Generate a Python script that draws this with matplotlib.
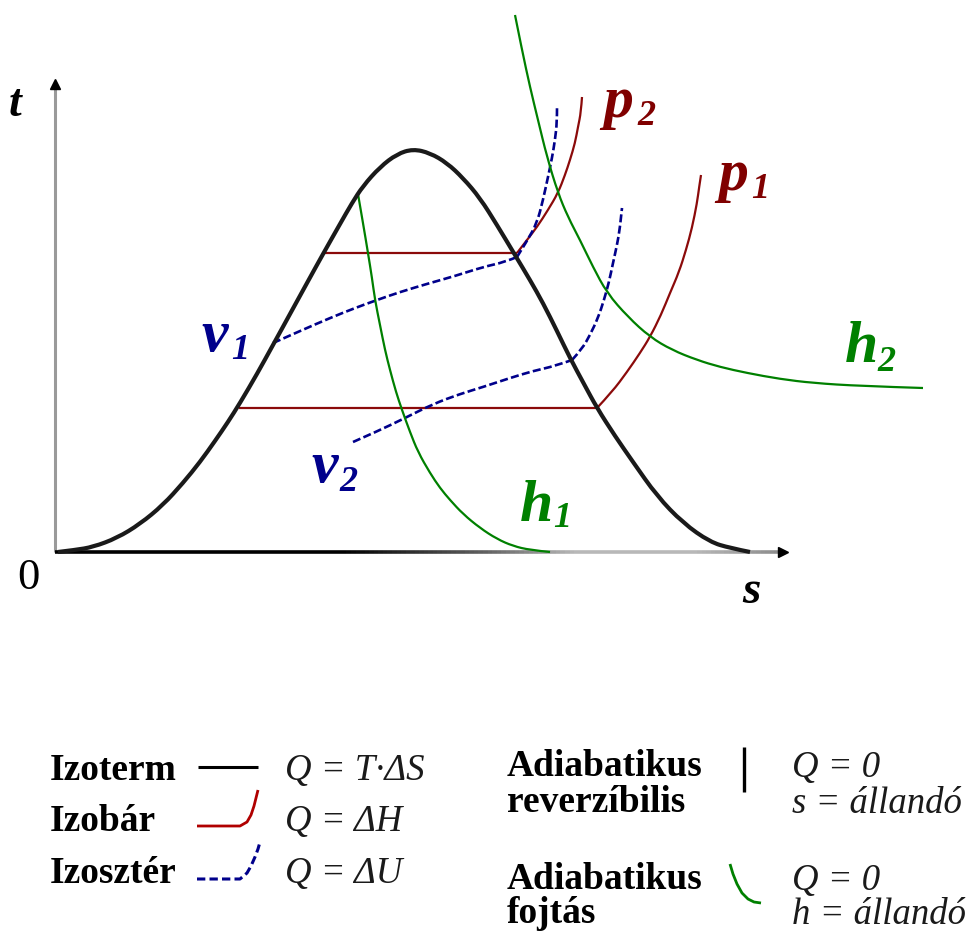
import numpy as np
import matplotlib
matplotlib.use("Agg")
import matplotlib.pyplot as plt
from matplotlib.collections import LineCollection
from matplotlib.path import Path
from matplotlib.patches import PathPatch

plt.rcParams['lines.scale_dashes'] = False
plt.rcParams['lines.solid_capstyle'] = 'butt'
plt.rcParams['lines.solid_joinstyle'] = 'round'

SERIF = ['Liberation Serif', 'DejaVu Serif']

# ---- curve data in the s-t plane -------------------------------------------
# saturation dome (boundary curve)
dome_s = [0.03, 0.20, 0.38, 0.62, 0.85, 1.08, 1.28, 1.45, 1.60, 1.73, 1.85,
          2.02, 2.18, 2.35, 2.52, 2.68, 2.85, 2.97, 3.08, 3.25, 3.42, 3.58,
          3.75, 3.92, 4.08, 4.25, 4.42, 4.60, 4.75, 4.88, 5.02, 5.15, 5.29,
          5.42, 5.60, 5.78, 6.02, 6.28, 6.55, 6.75, 6.95]
dome_t = [0.00, 0.02, 0.05, 0.14, 0.28, 0.47, 0.69, 0.90, 1.11, 1.30, 1.49,
          1.78, 2.07, 2.38, 2.69, 2.98, 3.28, 3.49, 3.66, 3.85, 3.98, 4.03,
          3.99, 3.89, 3.74, 3.54, 3.27, 2.97, 2.72, 2.49, 2.21, 1.94, 1.68,
          1.44, 1.16, 0.90, 0.56, 0.29, 0.10, 0.04, 0.00]

# isobars p2 (upper) and p1 (lower)
p2_s = [2.70, 4.62, 4.72, 4.82, 4.93, 5.03, 5.10, 5.15, 5.20, 5.23, 5.26, 5.27]
p2_t = [2.99, 2.99, 3.12, 3.25, 3.42, 3.59, 3.77, 3.92, 4.09, 4.25, 4.40, 4.55]
p1_s = [1.84, 5.42, 5.57, 5.72, 5.85, 5.95, 6.06, 6.15, 6.24, 6.31, 6.37,
        6.42, 6.44, 6.46]
p1_t = [1.44, 1.44, 1.60, 1.80, 1.99, 2.15, 2.37, 2.59, 2.80, 3.02, 3.24,
        3.49, 3.64, 3.77]

# isochores v1 and v2
v1_s = [2.18, 2.45, 2.75, 3.00, 3.22, 3.45, 3.75, 4.00, 4.28, 4.50, 4.62,
        4.72, 4.82, 4.88, 4.93, 4.97, 5.00, 5.02, 5.02]
v1_t = [2.09, 2.21, 2.34, 2.44, 2.52, 2.60, 2.69, 2.76, 2.85, 2.90, 2.95,
        3.11, 3.29, 3.52, 3.75, 3.94, 4.12, 4.30, 4.44]
v2_s = [2.98, 3.23, 3.48, 3.78, 4.05, 4.28, 4.55, 4.78, 5.00, 5.17, 5.27,
        5.35, 5.43, 5.49, 5.54, 5.58, 5.62, 5.65, 5.67]
v2_t = [1.10, 1.21, 1.33, 1.48, 1.58, 1.65, 1.74, 1.81, 1.86, 1.92, 2.03,
        2.17, 2.34, 2.52, 2.70, 2.89, 3.07, 3.24, 3.44]

# isenthalps h1 and h2
h1_s = [3.03, 3.08, 3.13, 3.17, 3.20, 3.25, 3.30, 3.35, 3.41, 3.47, 3.55,
        3.63, 3.75, 3.85, 3.95, 4.08, 4.25, 4.42, 4.58, 4.75, 4.95]
h1_t = [3.58, 3.29, 2.99, 2.74, 2.52, 2.27, 2.02, 1.82, 1.60, 1.42, 1.20,
        1.00, 0.79, 0.64, 0.52, 0.38, 0.24, 0.13, 0.06, 0.02, 0.00]
h2_s = [4.60, 4.67, 4.75, 4.83, 4.92, 5.03, 5.13, 5.25, 5.38, 5.52, 5.73,
        5.95, 6.17, 6.42, 6.65, 6.92, 7.25, 7.58, 8.05, 8.68]
h2_t = [5.37, 5.02, 4.65, 4.32, 3.95, 3.59, 3.35, 3.12, 2.85, 2.59, 2.35,
        2.15, 2.02, 1.92, 1.85, 1.79, 1.73, 1.69, 1.66, 1.64]

# legend rows
left_names = ["Izoterm", "Izobár", "Izosztér"]
left_formulas = ["Q = T·ΔS", "Q = ΔH", "Q = ΔU"]
right_names = [("Adiabatikus", "reverzíbilis"), ("Adiabatikus", "fojtás")]
right_formulas = [("Q = 0", "s = állandó"), ("Q = 0", "h = állandó")]

# ---- colours ----------------------------------------------------------------
C_DOME = '#1a1a1a'
C_RED = '#8b0a0a'
C_BLUE = '#00008b'
C_GREEN = '#008000'

fig = plt.figure(figsize=(9.7, 9.33), dpi=100)
ax = fig.add_axes([0, 0, 1, 1])
ax.set_xlim(-0.55, 9.15)
ax.set_ylim(-3.81, 5.52)
ax.axis('off')


def px(x, y):
    """Convert a position given in figure pixels to s-t coordinates."""
    return (x - 55) / 100.0, (552 - y) / 100.0


def smooth_curve(s, t, **kw):
    """Draw a smooth quadratic-Bezier curve guided by the given points."""
    pts = np.column_stack([s, t])
    n = len(pts)
    if n < 3:
        ax.plot(pts[:, 0], pts[:, 1], **kw)
        return
    verts = [pts[0]]
    codes = [Path.MOVETO]
    for i in range(1, n - 1):
        end = pts[n - 1] if i == n - 2 else 0.5 * (pts[i] + pts[i + 1])
        verts += [pts[i], end]
        codes += [Path.CURVE3, Path.CURVE3]
    color = kw.pop('color')
    patch = PathPatch(Path(verts, codes), fill=False, edgecolor=color,
                      capstyle='butt', joinstyle='round', **kw)
    ax.add_patch(patch)


# ---- axes -------------------------------------------------------------------
ax.plot([0, 0], [0, 4.64], color='#9a9a9a', lw=2.2, zorder=2)
ax.plot([0], [4.68], marker='^', ms=6.5, color='black', mec='black', zorder=3)

xs = np.linspace(0, 7.24, 160)
segs = [[(xs[i], 0), (xs[i + 1], 0)] for i in range(len(xs) - 1)]
mid = 0.5 * (xs[:-1] + xs[1:])
g = np.interp(mid, [0, 2.9, 4.3, 5.2, 6.4, 7.24], [0.0, 0.0, 0.38, 0.72, 0.72, 0.55])
ax.add_collection(LineCollection(segs, colors=[(v, v, v) for v in g],
                                 linewidths=2.6, zorder=2, capstyle='butt'))
ax.plot([7.28], [0], marker='>', ms=6.5, color='black', zorder=3)

# ---- curves -----------------------------------------------------------------
for cs, ct in [(p2_s, p2_t), (p1_s, p1_t)]:
    ax.plot(cs[:2], ct[:2], color=C_RED, lw=1.6, zorder=3)
    smooth_curve(cs[1:], ct[1:], color=C_RED, lw=1.6, zorder=3)

dash = (0, (5.8, 2.4))
smooth_curve(v1_s[:11], v1_t[:11], color=C_BLUE, lw=1.9, ls=dash, zorder=4)
smooth_curve(v1_s[10:], v1_t[10:], color=C_BLUE, lw=1.9, ls=dash, zorder=4)
smooth_curve(v2_s[:10], v2_t[:10], color=C_BLUE, lw=1.9, ls=dash, zorder=4)
smooth_curve(v2_s[9:], v2_t[9:], color=C_BLUE, lw=1.9, ls=dash, zorder=4)
smooth_curve(h1_s, h1_t, color=C_GREEN, lw=1.6, zorder=4)
smooth_curve(h2_s, h2_t, color=C_GREEN, lw=1.6, zorder=4)
smooth_curve(dome_s, dome_t, color=C_DOME, lw=3.0, zorder=5)


# ---- curve labels -----------------------------------------------------------
def label(x, y, txt, size, color, style='italic', weight='bold'):
    s, t = px(x, y)
    ax.text(s, t, txt, fontsize=size, color=color, family=SERIF,
            style=style, weight=weight, ha='left', va='baseline', zorder=6)


label(9, 116, 't', 33, 'black')
label(17, 589, '0', 32, 'black', style='normal', weight='normal')
label(742, 603, 's', 34, 'black')

for (xm, ym, xs_, ys_, main, sub, col) in [
        (603, 117, 637, 125, 'p', '2', '#800000'),
        (718, 190, 751, 198, 'p', '1', '#800000'),
        (845, 362, 877, 371, 'h', '2', C_GREEN),
        (201, 351, 231, 359, 'v', '1', C_BLUE),
        (311, 482, 339, 491, 'v', '2', C_BLUE),
        (520, 521, 553, 527, 'h', '1', C_GREEN)]:
    label(xm, ym, main, 43, col)
    label(xs_, ys_, sub, 26, col)

# ---- legend -----------------------------------------------------------------
LEG = 27
base_left = [780, 831, 883]
for name, formula, yb in zip(left_names, left_formulas, base_left):
    label(50, yb, name, LEG, 'black', style='normal', weight='bold')
    label(285, yb, formula, 26.5, '#1a1a1a', style='italic', weight='normal')

# key glyphs
kx, ky = zip(*[px(198, 767), px(258, 767)])
ax.plot(kx, ky, color='black', lw=2.2)
kx, ky = zip(*[px(*p) for p in [(197, 826), (240, 826), (247, 822), (251, 815),
                                 (254, 806), (256, 798), (258, 790)]])
ax.plot(kx, ky, color='#b00000', lw=2.0)
kx, ky = zip(*[px(*p) for p in [(197, 879), (240, 879), (247, 873), (251, 866),
                                 (255, 857), (258, 849), (260, 842)]])
ax.plot(kx, ky, color=C_BLUE, lw=2.2, ls=(0, (6, 3)))
kx, ky = zip(*[px(744, 747), px(744, 792)])
ax.plot(kx, ky, color='black', lw=2.4)
kx, ky = zip(*[px(*p) for p in [(730, 864), (733, 874), (737, 884), (742, 893),
                                 (748, 899), (754, 902), (761, 903)]])
ax.plot(kx, ky, color=C_GREEN, lw=2.0)

for (n1, n2), (f1, f2), (y1, y2) in zip(right_names, right_formulas,
                                        [(776, 812), (889, 923)]):
    label(507, y1, n1, LEG, 'black', style='normal', weight='bold')
    label(507, y2, n2, LEG, 'black', style='normal', weight='bold')
    label(792, y1 + 1, f1, 26.5, '#1a1a1a', style='italic', weight='normal')
    label(792, y2 + 1, f2, 26.5, '#1a1a1a', style='italic', weight='normal')

fig.savefig('out.png', dpi=100, facecolor='white')
